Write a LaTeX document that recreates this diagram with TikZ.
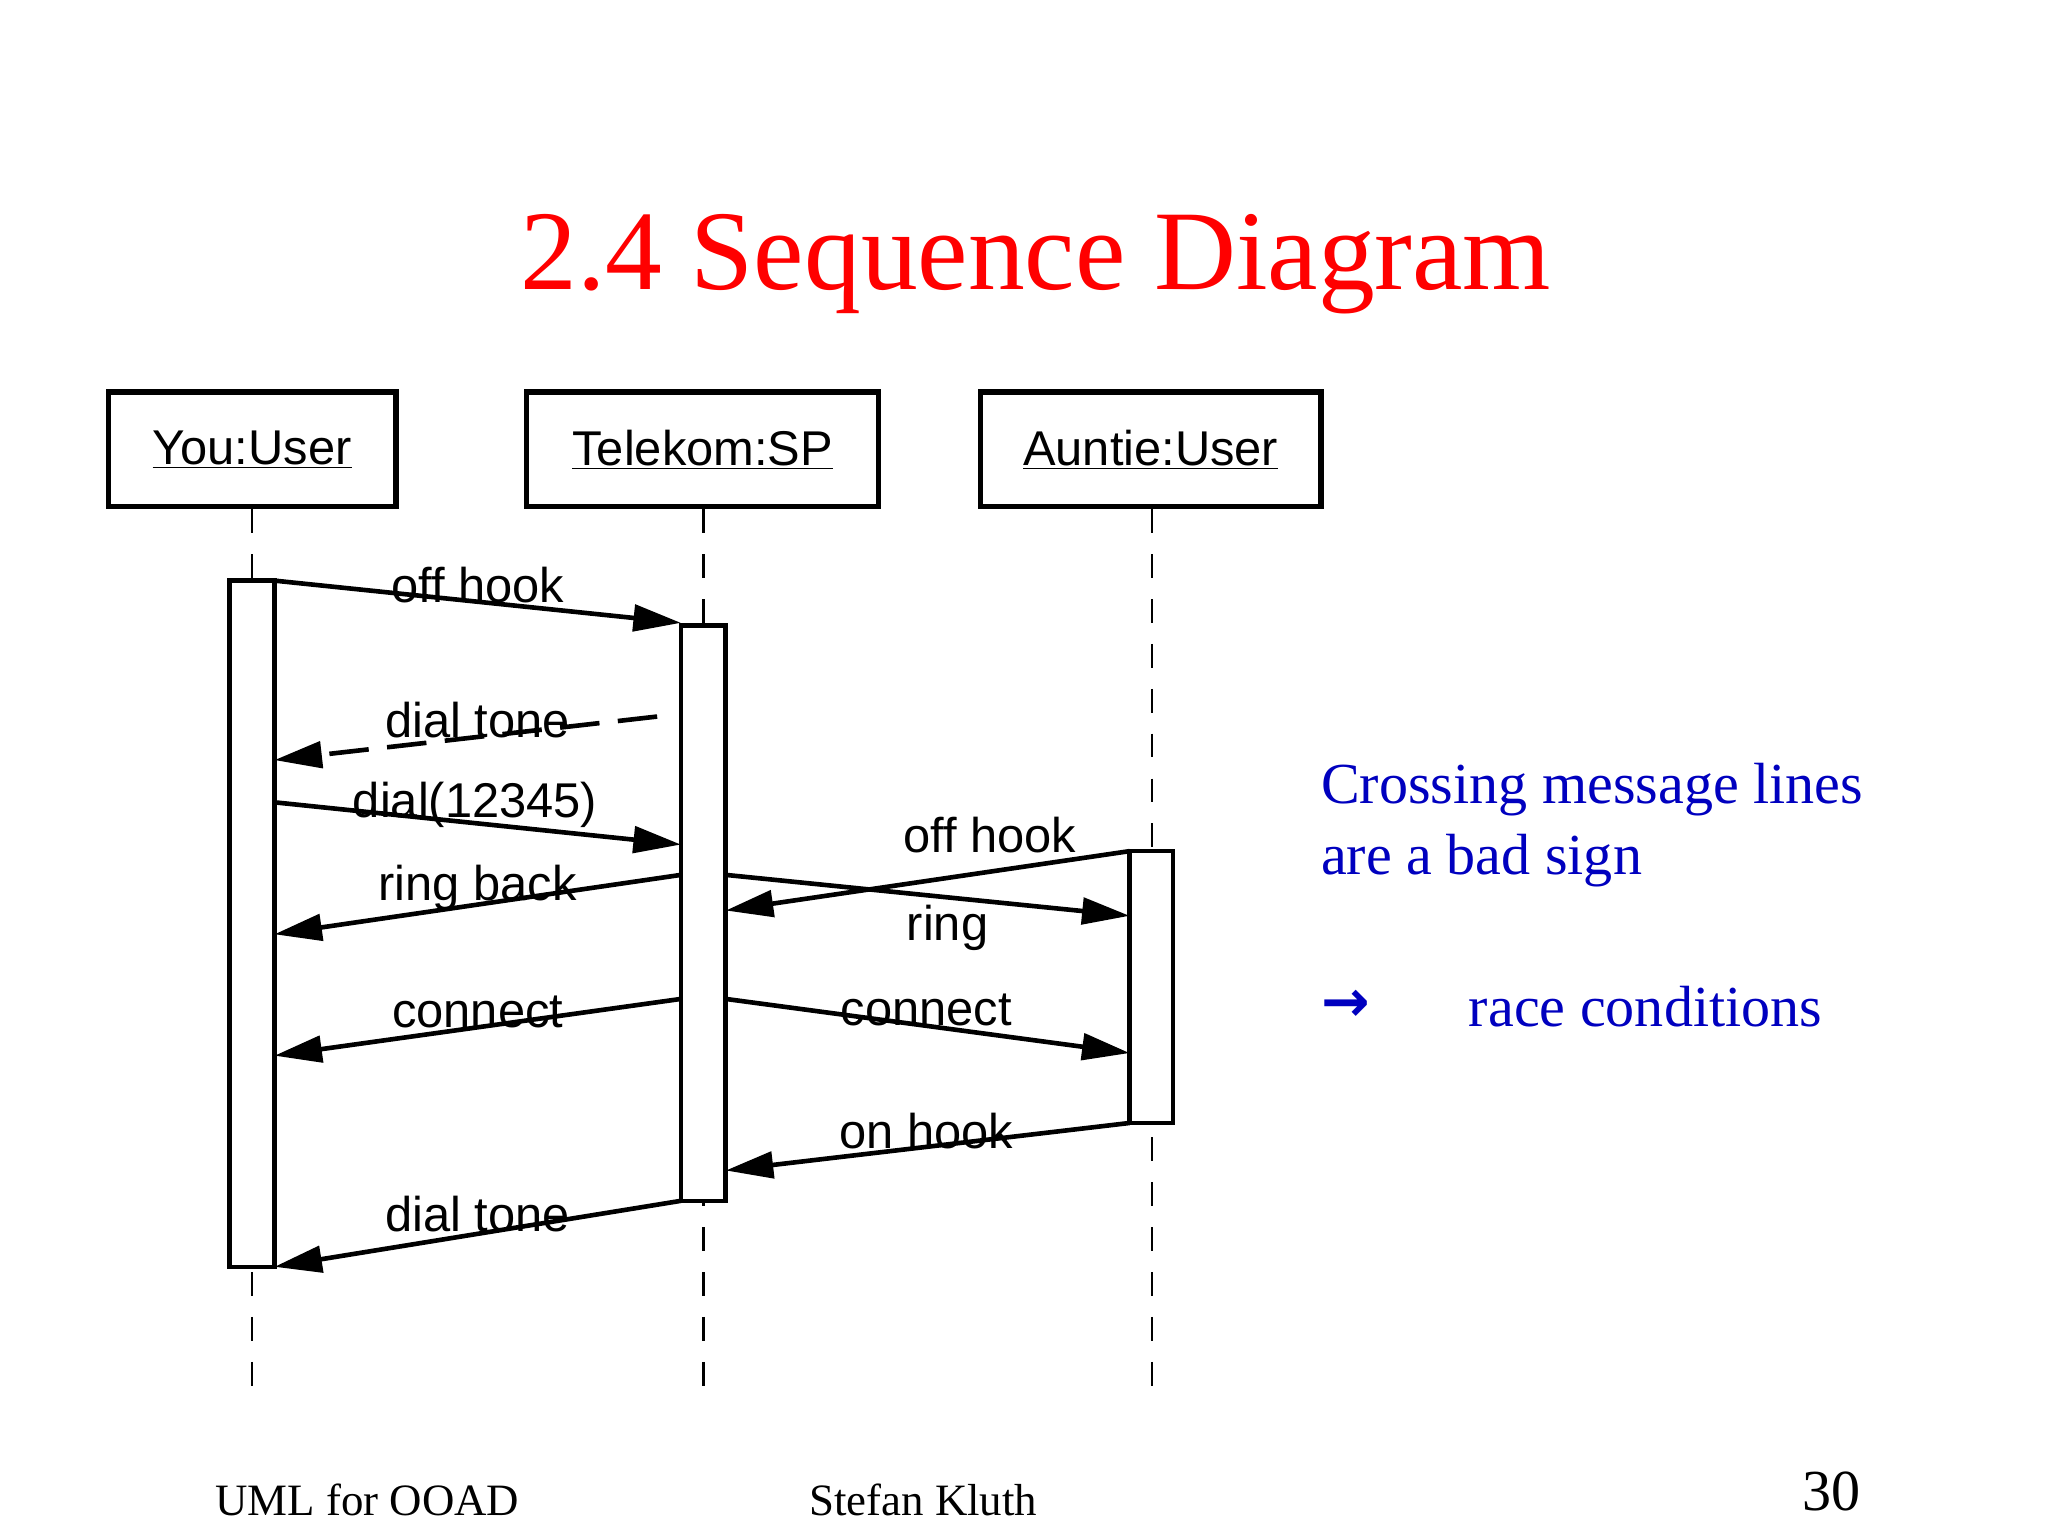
\documentclass[tikz,border=0pt]{standalone}
\usepackage{fontspec}
\setmainfont{Liberation Serif}
\newfontfamily\diag{Liberation Sans}
\newfontfamily\arw{DejaVu Sans}
\usetikzlibrary{arrows.meta}
\begin{document}
\begin{tikzpicture}[x=1pt,y=-1pt,
  obj/.style={draw,line width=4pt,minimum width=#1,minimum height=87pt,inner sep=0pt,font=\diag\fontsize{37}{42}\selectfont},
  act/.style={draw,line width=3.5pt,fill=white},
  life/.style={line width=2pt,dash pattern=on 18pt off 16pt},
  msg/.style={line width=3.5pt,-{Triangle[length=36pt,width=20pt]}},
  lbl/.style={font=\diag\fontsize{37}{42}\selectfont,inner sep=0pt},
  blue/.style={text=blue!75!black,font=\fontsize{44}{50}\selectfont,anchor=west,inner sep=0pt}]
\useasboundingbox[fill=white] (0,0) rectangle (1552,1164);
\node[text=red,font=\fontsize{86}{96}\selectfont] (title) at (785,200) {2.4 Sequence Diagram};
\node[obj=218pt] (you) at (191,340.5) {\underline{You:User}};
\node[obj=267pt] (tel) at (532.5,340.5) {\underline{Telekom:SP}};
\node[obj=258pt] (aun) at (872,340.5) {\underline{Auntie:User}};
\coordinate (ye) at (191,1060); \coordinate (te) at (533,1060); \coordinate (ae) at (873,1060);
\draw[life] (191,386) -- (ye);
\draw[life] (533,386) -- (te);
\draw[life] (873,386) -- (ae);
\draw[act] (174,440) rectangle (208,960);
\draw[act] (516,474) rectangle (550,910);
\draw[act] (856,645) rectangle (889,851);
\coordinate (a1) at (208,440); \coordinate (b1) at (516,472);
\coordinate (a2) at (498,543); \coordinate (b2) at (208,576);
\coordinate (a3) at (208,608); \coordinate (b3) at (516,640);
\coordinate (a4) at (516,663); \coordinate (b4) at (208,708);
\coordinate (a5) at (550,663); \coordinate (b5) at (856,694);
\coordinate (a6) at (856,645); \coordinate (b6) at (550,690);
\coordinate (a7) at (516,757); \coordinate (b7) at (208,800);
\coordinate (a8) at (550,757); \coordinate (b8) at (856,798);
\coordinate (a9) at (856,851); \coordinate (b9) at (550,887);
\coordinate (a10) at (516,910); \coordinate (b10) at (208,960);
\draw[msg] (a1) -- (b1);
\draw[msg,dash pattern=on 30pt off 14pt] (a2) -- (b2);
\draw[msg] (a3) -- (b3);
\draw[msg] (a4) -- (b4);
\draw[msg] (a5) -- (b5);
\draw[msg] (a6) -- (b6);
\draw[msg] (a7) -- (b7);
\draw[msg] (a8) -- (b8);
\draw[msg] (a9) -- (b9);
\draw[msg] (a10) -- (b10);
\node[lbl] (l1) at (362,443) {off hook};
\node[lbl] (l2) at (362,546) {dial tone};
\node[lbl] (l3) at (360,610) {dial(12345)};
\node[lbl] (l4) at (362,673) {ring back};
\node[lbl] (l5) at (718,703) {ring};
\node[lbl] (l6) at (750,633) {off hook};
\node[lbl] (l7) at (362,767) {connect};
\node[lbl] (l8) at (702,765) {connect};
\node[lbl] (l9) at (702,857) {on hook};
\node[lbl] (l10) at (362,920) {dial tone};
\node[blue] (t1) at (1001,598) {Crossing message lines};
\node[blue] (t2) at (1001,652) {are a bad sign};
\node[blue,font=\arw\bfseries\fontsize{44}{50}\selectfont] (t3) at (1001,762) {→};
\node[blue] (t4) at (1113,763) {race conditions};
\node[font=\fontsize{34}{40}\selectfont,anchor=west,inner sep=0pt] (f1) at (163,1137) {UML for OOAD};
\node[font=\fontsize{34}{40}\selectfont,anchor=west,inner sep=0pt] (f2) at (613,1137) {Stefan Kluth};
\node[font=\fontsize{44}{50}\selectfont,inner sep=0pt] (f3) at (1388,1130) {30};
\end{tikzpicture}
\end{document}
